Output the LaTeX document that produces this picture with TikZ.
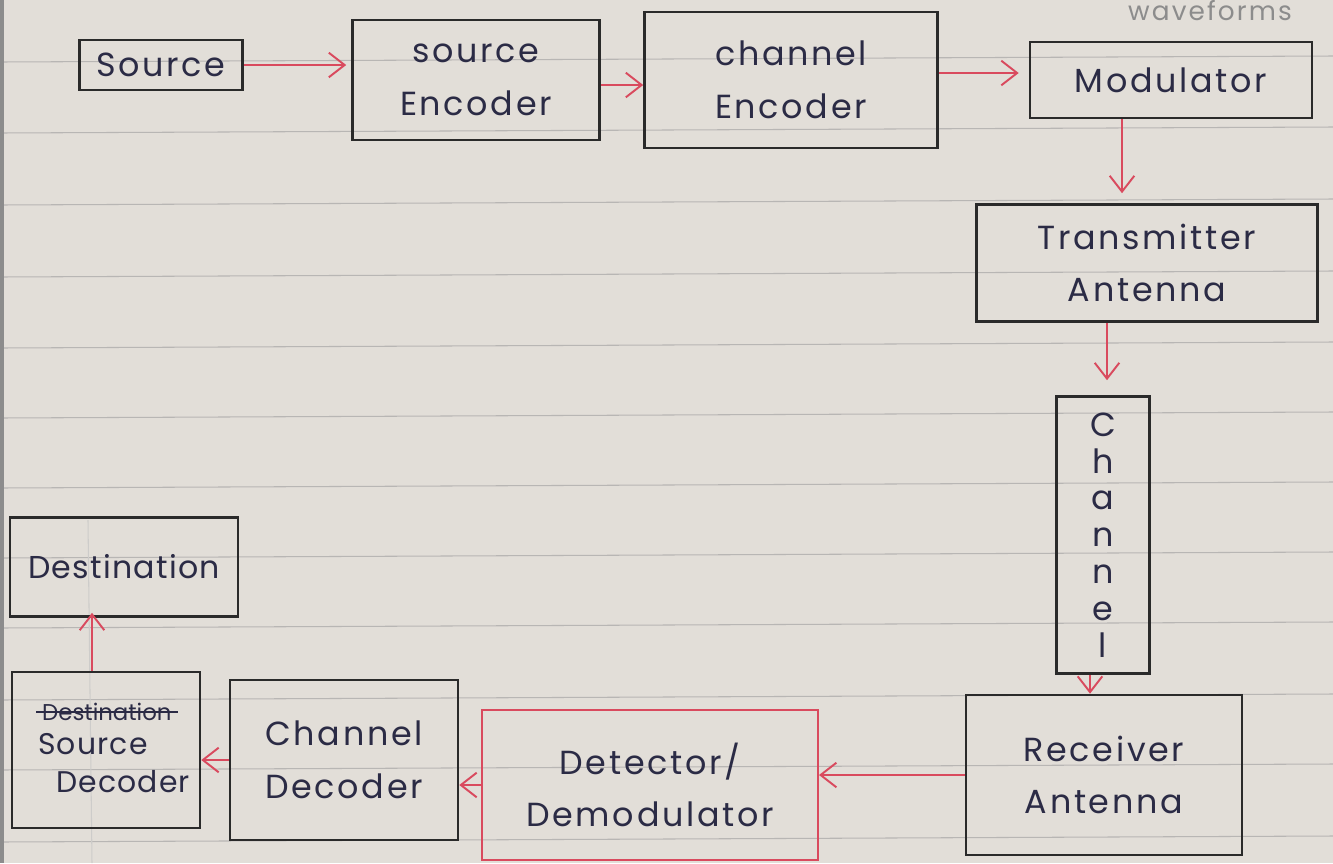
\documentclass[tikz,border=0pt]{standalone}
\usepackage{fontspec}
\setmainfont{Poppins}
\usetikzlibrary{arrows.meta,calc}
\definecolor{paper}{HTML}{E2DED8}
\definecolor{rule}{HTML}{B8B6B4}
\definecolor{ink}{HTML}{2B2B45}
\definecolor{pen}{HTML}{D94A5E}
\definecolor{boxink}{HTML}{2A2A2A}
\tikzset{
  blk/.style={draw=boxink, line width=1.5pt, inner sep=0pt, align=center, text=ink,
    font=\fontsize{19}{30}\selectfont\addfontfeatures{LetterSpace=8}},
  redblk/.style={blk, draw=pen, line width=1.2pt},
  arr/.style={draw=pen, line width=1.1pt, -{Straight Barb[length=9pt,width=14pt]}},
}
\begin{document}
\begin{tikzpicture}[x=0.02cm,y=-0.02cm]
\fill[paper] (0,0) rectangle (1333,863);
\useasboundingbox (0,0) rectangle (1333,863);
% ruled paper
\foreach \yy in {62,133,205,277,348,418,488,558,628,700,770,842}
  \draw[rule, line width=0.6pt] (0,\yy) -- (1333,\yy-6);
\draw[rule!70, line width=0.6pt] (88,520) -- (92,863);
\draw[black!45, line width=3pt] (1,0) -- (1,863);
% pencil text at top right
\node[text=black!45, font=\fontsize{15}{15}\selectfont\addfontfeatures{LetterSpace=8}, anchor=center, inner sep=0pt] (wf) at (1210,11) {waveforms};
% blocks
\node[blk, minimum width=3.26cm, minimum height=1.0cm] (src) at (161,65) {Source};
\node[blk, minimum width=4.94cm, minimum height=2.4cm] (senc) at (476,80) {source\\Encoder};
\node[blk, minimum width=5.86cm, minimum height=2.72cm] (cenc) at (791,80) {channel\\Encoder};
\node[blk, minimum width=5.64cm, minimum height=1.52cm] (mod) at (1171,80) {Modulator};
\node[blk, minimum width=6.82cm, minimum height=2.34cm] (tx) at (1147,263) {Transmitter\\Antenna};
\node[blk, minimum width=1.86cm, minimum height=5.54cm, font=\fontsize{19}{21}\selectfont] (chan) at (1103,535) {C\\h\\a\\n\\n\\e\\l};
\node[blk, minimum width=5.52cm, minimum height=3.2cm] (rx) at (1104,775) {Receiver\\Antenna};
\node[redblk, minimum width=6.72cm, minimum height=3.0cm] (det) at (650,785) {Detector/\\Demodulator};
\node[blk, minimum width=4.56cm, minimum height=3.2cm] (cdec) at (344,760) {Channel\\Decoder};
\node[blk, minimum width=3.76cm, minimum height=3.12cm] (sdec) at (106,750) {};
\node[text=ink, font=\fontsize{13}{13}\selectfont, anchor=west] (struck) at (36,712) {Destination};
\draw[ink, line width=1.2pt] (struck.west) -- (struck.east);
\node[text=ink, font=\fontsize{17}{17}\selectfont\addfontfeatures{LetterSpace=4}, anchor=west] (sdtxt1) at (32,744) {Source};
\node[text=ink, font=\fontsize{17}{17}\selectfont\addfontfeatures{LetterSpace=4}, anchor=west] (sdtxt2) at (50,782) {Decoder};
\node[blk, minimum width=4.56cm, minimum height=1.98cm, font=\fontsize{18}{24}\selectfont\addfontfeatures{LetterSpace=4}] (dest) at (124,567) {Destination};
% connectors
\draw[arr] (src.east) -- ([xshift=-0.1cm]src.east -| senc.west);
\draw[arr] ([yshift=-0.1cm]senc.east) -- ([yshift=-0.1cm]senc.east -| cenc.west);
\draw[arr] ([yshift=0.14cm]cenc.east) -- ([xshift=-0.2cm,yshift=0.14cm]cenc.east -| mod.west);
\draw[arr] ([xshift=-0.98cm]mod.south) -- ([xshift=-0.98cm,yshift=0.2cm]mod.south |- tx.north);
\draw[arr] ([xshift=-0.8cm]tx.south) -- ([xshift=-0.8cm,yshift=0.3cm]tx.south |- chan.north);
\draw[arr] ([xshift=-0.26cm]chan.south) -- ([xshift=-0.26cm]chan.south |- rx.north);
\draw[arr] (rx.west) -- (rx.west -| det.east);
\draw[arr] (det.west) -- (det.west -| cdec.east);
\draw[arr] (cdec.west) -- (cdec.west -| sdec.east);
\draw[arr] ([xshift=-0.28cm]sdec.north) -- ([xshift=-0.28cm,yshift=0.1cm]sdec.north |- dest.south);
\end{tikzpicture}
\end{document}
